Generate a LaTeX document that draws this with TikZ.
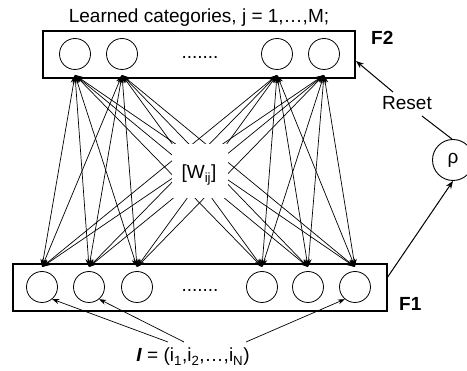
\documentclass[tikz,border=0pt]{standalone}
\usepackage{fontspec}
\setmainfont{Liberation Sans}
\usetikzlibrary{arrows.meta}
\begin{document}
\begin{tikzpicture}[x=1pt,y=-1pt,
  unit/.style={circle,draw,line width=0.8pt,minimum size=31pt,inner sep=0pt},
  layer/.style={draw,line width=1.2pt},
  wline/.style={line width=0.7pt,{Stealth[length=8pt,width=6pt]}-{Stealth[length=8pt,width=6pt]}},
  arr/.style={line width=1pt,-{Stealth[length=8pt,width=6pt]}},
  inarr/.style={line width=0.7pt,-{Stealth[length=7pt,width=5pt]}},
  txt/.style={font=\fontsize{19}{22}\selectfont,inner sep=0pt},
  lbl/.style={font=\fontsize{19}{22}\selectfont\bfseries,inner sep=0pt}]
\useasboundingbox (0,0) rectangle (467,371);
\clip (0,0) rectangle (467,371);
% layers
\node[layer,minimum width=312pt,minimum height=47pt,inner sep=0pt] (F2box) at (199,54.5) {};
\node[layer,minimum width=374pt,minimum height=47pt,inner sep=0pt] (F1box) at (200,287.5) {};
% F2 units
\foreach \n/\x in {1/75,2/122,3/277,4/324}{
  \node[unit] (b\n) at (\x,54) {};
  \coordinate (bt\n) at (\x,75);
}
% F1 units
\foreach \n/\x in {1/42,2/89,3/137,4/262,5/308,6/355}{
  \node[unit] (a\n) at (\x,287) {};
  \coordinate (at\n) at (\x,267);
}
\node[txt,anchor=base] (dots2) at (200,59) {.......};
\node[txt,anchor=base] (dots1) at (200,292) {.......};
% weights
\foreach \i in {1,...,6}{
  \foreach \j in {1,...,4}{
    \draw[wline] (at\i) -- (bt\j);
  }
}
\node[fill=white,minimum width=56pt,minimum height=54pt,inner sep=0pt] (wbg) at (200,171) {};
\node[txt,anchor=base] (W) at (199,179) {[W\textsubscript{ij}]};
% texts
\node[txt,anchor=base] (title) at (199,23) {Learned categories, j = 1,…,M;};
\node[lbl,anchor=base west] (F2) at (371,45) {F2};
\node[lbl,anchor=base west] (F1) at (399,311) {F1};
\node[txt,anchor=base] (reset) at (407,110) {Reset};
\node[circle,draw,line width=0.9pt,minimum size=41pt,inner sep=0pt,font=\fontsize{19}{22}\selectfont] (rho) at (453,160) {ρ};
\node[txt,anchor=base] (input) at (193,362) {\textbf{\textit{I}} = (i\textsubscript{1},i\textsubscript{2},…,i\textsubscript{N})};
% control connections
\coordinate (F2r) at (356,61);
\coordinate (F1c) at (387,278);
\coordinate (rs1) at (393,92);
\coordinate (rs2) at (422,116);
\draw[arr] (rs1) -- (F2r);
\draw[line width=1pt] (rho.north) ++(-1,0) -- (rs2);
\draw[arr] (F1c) -- (rho.south);
% input arrows
\coordinate (in1) at (168,342);
\coordinate (in2) at (184,342);
\coordinate (in3) at (246,342);
\draw[inarr] (in1) -- (a1.-50);
\draw[inarr] (in2) -- (a2.-50);
\draw[inarr] (in3) -- (a6.-130);
\end{tikzpicture}
\end{document}
